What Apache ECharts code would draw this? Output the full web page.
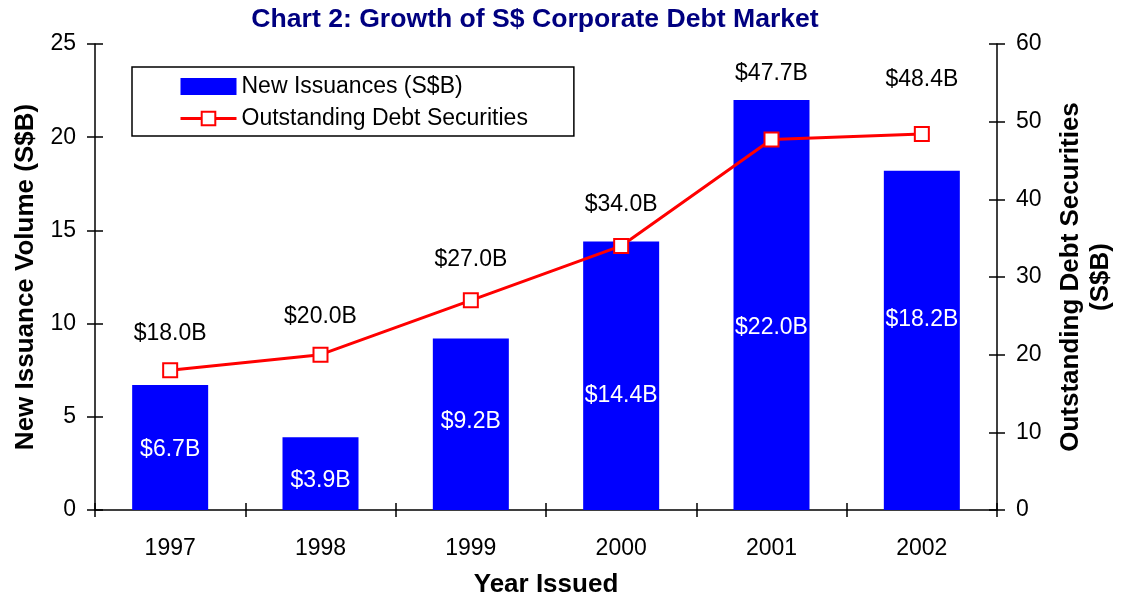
<!DOCTYPE html>
<html>
<head>
<meta charset="utf-8">
<script src="https://cdn.jsdelivr.net/npm/echarts@6/dist/echarts.min.js"></script>
<style>
  html, body { margin: 0; padding: 0; background: #fff; }
  #chart { width: 1122px; height: 599px; }
</style>
</head>
<body>
<div id="chart"></div>
<script>
// chart data
const years = ['1997', '1998', '1999', '2000', '2001', '2002']
const newIssuances = [6.7, 3.9, 9.2, 14.4, 22.0, 18.2]
const outstandingDebt = [18.0, 20.0, 27.0, 34.0, 47.7, 48.4]

// label placement, as in the original sheet (px)
const barLabelDistance = [49, 18, 77, 103, 171, 179]
const lineLabelDistance = [17, 19, 21, 22, 46, 35]

const FONT = 'Liberation Sans, Arial, sans-serif'
const fmt = v => '$' + v.toFixed(1) + 'B'

const chart = echarts.init(document.getElementById('chart'))

// extra axes only draw the inner half of the crossing tick marks
function innerY(pos, max, interval) {
  return {
    type: 'value', position: pos, min: 0, max: max, interval: interval,
    axisLine: { show: false },
    axisTick: { show: true, inside: true, length: 8, lineStyle: { color: '#000', width: 1.5 } },
    axisLabel: { show: false },
    splitLine: { show: false }
  }
}

chart.setOption({
  animation: false,
  textStyle: { fontFamily: FONT },
  title: {
    text: 'Chart 2: Growth of S$ Corporate Debt Market',
    left: 530,
    textAlign: 'center',
    top: 1,
    textStyle: { color: '#000080', fontSize: 26.6, fontWeight: 'bold', fontFamily: FONT }
  },
  legend: {
    orient: 'vertical',
    left: 132,
    top: 67,
    padding: [8, 46, 6, 47],
    itemGap: 9,
    itemWidth: 56,
    itemHeight: 17,
    borderColor: '#000',
    borderWidth: 1.5,
    lineStyle: { width: 3 },
    textStyle: { color: '#000', fontSize: 23, fontFamily: FONT },
    data: [
      { name: 'New Issuances (S$B)', icon: 'rect' },
      { name: 'Outstanding Debt Securities' }
    ]
  },
  grid: { left: 95, right: 125, top: 44, bottom: 89, containLabel: false, outerBoundsMode: 'none' },
  xAxis: [
    {
      type: 'category',
      position: 'bottom',
      data: years,
      name: 'Year Issued',
      nameLocation: 'middle',
      nameGap: 62,
      nameTextStyle: { color: '#000', fontSize: 26, fontWeight: 'bold', fontFamily: FONT },
      axisLine: { lineStyle: { color: '#000', width: 1.5 } },
      axisTick: { show: true, length: 7, lineStyle: { color: '#000', width: 1.5 } },
      axisLabel: { color: '#000', fontSize: 23, margin: 27, fontFamily: FONT }
    },
    {
      type: 'category',
      position: 'bottom',
      data: years,
      axisLine: { show: false },
      axisTick: { show: true, inside: true, length: 7, lineStyle: { color: '#000', width: 1.5 } },
      axisLabel: { show: false }
    }
  ],
  yAxis: [
    {
      type: 'value',
      position: 'left',
      min: 0, max: 25, interval: 5,
      name: 'New Issuance Volume (S$B)',
      nameLocation: 'middle',
      nameGap: 56,
      nameTextStyle: { color: '#000', fontSize: 26, fontWeight: 'bold', fontFamily: FONT },
      axisLine: { show: true, lineStyle: { color: '#000', width: 1.5 } },
      axisTick: { show: true, length: 8, lineStyle: { color: '#000', width: 1.5 } },
      axisLabel: { color: '#000', fontSize: 23, margin: 19, fontFamily: FONT },
      splitLine: { show: false }
    },
    {
      type: 'value',
      position: 'right',
      min: 0, max: 60, interval: 10,
      name: 'Outstanding Debt Securities\n(S$B)',
      nameLocation: 'middle',
      nameGap: 59,
      nameTextStyle: { color: '#000', fontSize: 26, fontWeight: 'bold', fontFamily: FONT, lineHeight: 30 },
      axisLine: { show: true, lineStyle: { color: '#000', width: 1.5 } },
      axisTick: { show: true, length: 8, lineStyle: { color: '#000', width: 1.5 } },
      axisLabel: { color: '#000', fontSize: 23, margin: 19, fontFamily: FONT },
      splitLine: { show: false }
    },
    innerY('left', 25, 5),
    innerY('right', 60, 10)
  ],
  series: [
    {
      name: 'New Issuances (S$B)',
      type: 'bar',
      xAxisIndex: 0,
      yAxisIndex: 0,
      barWidth: 76,
      itemStyle: { color: '#0000ff' },
      data: newIssuances.map((v, i) => ({
        value: v,
        label: { distance: barLabelDistance[i] }
      })),
      label: {
        show: true,
        position: 'insideBottom',
        color: '#fff',
        fontSize: 23,
        fontFamily: FONT,
        formatter: p => fmt(p.value)
      }
    },
    {
      name: 'Outstanding Debt Securities',
      type: 'line',
      xAxisIndex: 0,
      yAxisIndex: 1,
      symbol: 'rect',
      symbolSize: 14,
      showAllSymbol: true,
      lineStyle: { color: '#ff0000', width: 3 },
      itemStyle: { color: '#fff', borderColor: '#ff0000', borderWidth: 2 },
      data: outstandingDebt.map((v, i) => ({
        value: v,
        label: { distance: lineLabelDistance[i] }
      })),
      label: {
        show: true,
        position: 'top',
        color: '#000',
        fontSize: 23,
        fontFamily: FONT,
        formatter: p => fmt(p.value)
      },
      z: 3
    }
  ]
})
</script>
</body>
</html>
